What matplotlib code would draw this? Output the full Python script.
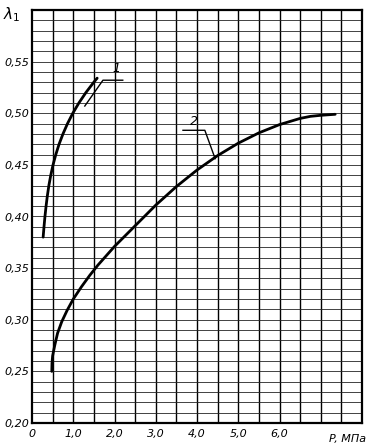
import matplotlib
matplotlib.use("Agg")
import matplotlib.pyplot as plt
import numpy as np

# curve 1
p1 = [0.27, 0.291, 0.314, 0.341, 0.372, 0.409, 0.455, 0.510, 0.577, 0.656,
      0.751, 0.861, 0.989, 1.137, 1.306, 1.497, 1.58]
lam1 = [0.380, 0.390, 0.400, 0.410, 0.420, 0.430, 0.440, 0.450, 0.460,
        0.470, 0.480, 0.490, 0.500, 0.510, 0.520, 0.530, 0.534]

# curve 2
p2 = [0.48, 0.485, 0.50, 0.55, 0.62, 0.72, 0.85, 1.0, 1.2, 1.4, 1.6, 1.8,
      2.0, 2.25, 2.5, 2.75, 3.0, 3.25, 3.5, 3.75, 4.0, 4.25, 4.5, 4.75,
      5.0, 5.25, 5.5, 5.75, 6.0, 6.25, 6.5, 6.75, 7.0, 7.35]
lam2 = [0.250, 0.258, 0.265, 0.275, 0.287, 0.298, 0.309, 0.320, 0.332,
        0.343, 0.353, 0.362, 0.371, 0.381, 0.391, 0.401, 0.411, 0.420,
        0.429, 0.437, 0.445, 0.452, 0.459, 0.465, 0.471, 0.476, 0.481,
        0.485, 0.489, 0.492, 0.495, 0.497, 0.498, 0.499]

xticks = [0, 1, 2, 3, 4, 5, 6]
xlabels = ["0", "1,0", "2,0", "3,0", "4,0", "5,0", "6,0"]
yticks = [0.20, 0.25, 0.30, 0.35, 0.40, 0.45, 0.50, 0.55]
ylabels = ["0,20", "0,25", "0,30", "0,35", "0,40", "0,45", "0,50", "0,55"]

fig = plt.figure(figsize=(3.73, 4.47), dpi=100)
ax = fig.add_axes([32/373, 1-423/447, 330/373, 413/447])
ax.set_xlim(0, 8)
ax.set_ylim(0.20, 0.60)

# grid paper
for x in np.arange(0.5, 8.0, 0.5):
    ax.axvline(x, color="black", lw=1.0, zorder=1)
for y in np.arange(0.21, 0.60, 0.01):
    ax.axhline(y, color="#222222", lw=0.6, zorder=1)

ax.plot(p1, lam1, color="black", lw=2.0, zorder=3, solid_capstyle="round")
ax.plot(p2, lam2, color="black", lw=2.0, zorder=3, solid_capstyle="round")

# leaders and labels
ax.plot([1.28, 1.72, 2.2], [0.507, 0.532, 0.532], color="black", lw=1.0, zorder=3)
ax.text(2.05, 0.537, "1", fontsize=9, style="italic", ha="center", va="bottom")
ax.plot([3.66, 4.19, 4.44], [0.4835, 0.4835, 0.456], color="black", lw=1.0, zorder=3)
ax.text(3.92, 0.486, "2", fontsize=9, style="italic", ha="center", va="bottom")

for s in ax.spines.values():
    s.set_linewidth(1.6)

ax.tick_params(length=0, pad=4)
ax.set_xticks(xticks)
ax.set_xticklabels(xlabels, fontsize=8, style="italic")
ax.set_yticks(yticks)
ax.set_yticklabels(ylabels, fontsize=8, style="italic")
ax.tick_params(axis="y", pad=2)

ax.text(7.65, 0.20 - 0.0105, "P, МПа", fontsize=8, style="italic",
        ha="center", va="top")
fig.text(12/373, 1-15/447, r"$\lambda_1$", fontsize=11, ha="center", va="center")

fig.savefig("out.png", dpi=100)
